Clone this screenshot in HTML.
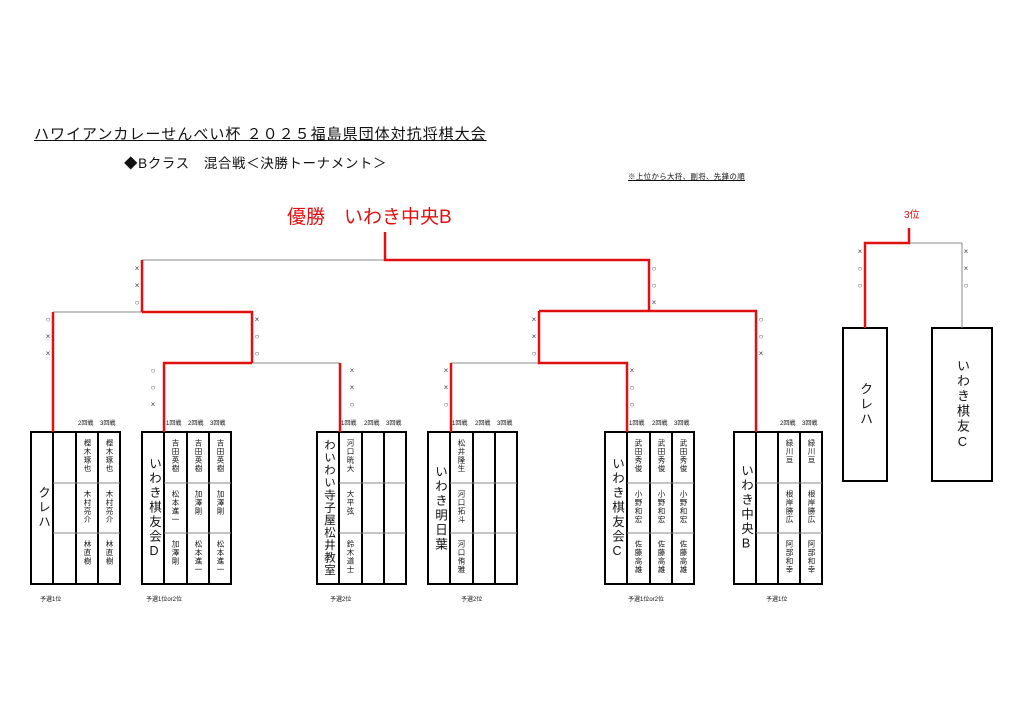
<!DOCTYPE html>
<html><head><meta charset="utf-8"><style>
body{margin:0;width:1024px;height:723px;background:#fff;position:relative;overflow:hidden;font-family:"Liberation Sans","Noto Sans CJK JP",sans-serif;color:#111}
.a{position:absolute;white-space:nowrap}
.v{position:absolute;writing-mode:vertical-rl;text-orientation:upright;font-size:7.5px;width:22px;height:51px;box-sizing:border-box;padding-top:7px;display:flex;align-items:center;line-height:22px;letter-spacing:1px}
.n{position:absolute;writing-mode:vertical-rl;text-orientation:upright;font-size:12.5px;width:22px;height:152px;display:flex;justify-content:center;align-items:center;line-height:22px;letter-spacing:2px}
.h{position:absolute;font-size:6px;top:418px;white-space:nowrap}
.f{position:absolute;font-size:6px;top:594px;white-space:nowrap}
.m{position:absolute;font-size:8px;color:#444;line-height:17px;width:10px;text-align:center}
</style></head><body>
<svg width="1024" height="723" style="position:absolute;left:0;top:0">
<g fill="none" stroke="#000" stroke-width="2">
<rect x="31" y="432" width="89" height="152"/><rect x="142" y="432" width="89" height="152"/><rect x="317" y="432" width="89" height="152"/><rect x="428" y="432" width="89" height="152"/><rect x="605" y="432" width="89" height="152"/><rect x="734" y="432" width="88" height="152"/>
<rect x="843" y="328" width="44" height="153"/><rect x="932" y="328" width="60" height="153"/>
<path d="M53 432V584M76 432V584M98 432V584M164 432V584M187 432V584M209 432V584M339 432V584M362 432V584M384 432V584M450 432V584M473 432V584M495 432V584M627 432V584M650 432V584M672 432V584M756 432V584M778 432V584M800 432V584"/>
</g>
<g stroke="#888" stroke-width="1">
<path d="M53 483H120M53 533H120M164 483H231M164 533H231M339 483H406M339 533H406M450 483H517M450 533H517M627 483H694M627 533H694M756 483H822M756 533H822"/>
<path d="M53 312H142M142 260H385M252 363H340M451 363H539M539 311H649M909 243H962M962 243V328"/>
</g>
<g fill="none" stroke="#e01010" stroke-width="2.5">
<path d="M53 432V312M142 312H252V363M142 312V260M164 432V363H252M340 432V363M451 432V363M627 432V363H539V311M539 311H649V260H385V232M649 311H756V432M909 228V243H865V328"/>
</g>
</svg>
<div class="a" style="left:34px;top:123px;font-size:15px;text-decoration:underline;letter-spacing:1px">ハワイアンカレーせんべい杯 ２０２５福島県団体対抗将棋大会</div>
<div class="a" style="left:124px;top:152px;font-size:13.5px;letter-spacing:0.6px">◆Bクラス　混合戦＜決勝トーナメント＞</div>
<div class="a" style="left:628px;top:171px;font-size:7.5px;text-decoration:underline;letter-spacing:0.3px">※上位から大将、副将、先鋒の順</div>
<div class="a" style="left:287px;top:202px;font-size:19px;color:#e01010">優勝　いわき中央B</div>
<div class="a" style="left:904px;top:206px;font-size:10px;color:#e01010">3位</div>

<!-- marks -->
<div class="m" style="left:43px;top:311px">○<br>×<br>×</div>
<div class="m" style="left:132px;top:260px">×<br>×<br>○</div>
<div class="m" style="left:252px;top:311px">×<br>○<br>○</div>
<div class="m" style="left:148px;top:362px">○<br>○<br>×</div>
<div class="m" style="left:347px;top:362px">×<br>×<br>○</div>
<div class="m" style="left:649px;top:260px">○<br>○<br>×</div>
<div class="m" style="left:529px;top:311px">×<br>×<br>○</div>
<div class="m" style="left:756px;top:311px">○<br>○<br>×</div>
<div class="m" style="left:441px;top:362px">×<br>×<br>○</div>
<div class="m" style="left:627px;top:362px">×<br>○<br>○</div>
<div class="m" style="left:855px;top:243px">×<br>○<br>○</div>
<div class="m" style="left:961px;top:243px">×<br>×<br>○</div>

<!-- T1 -->
<div class="h" style="left:78px">2回戦</div><div class="h" style="left:100px">3回戦</div>
<div class="n" style="left:32px;top:432px">クレハ</div>
<div class="v" style="left:76px;top:432px">樫木琢也</div><div class="v" style="left:76px;top:483px">木村亮介</div><div class="v" style="left:76px;top:533px">林直樹</div>
<div class="v" style="left:98px;top:432px">樫木琢也</div><div class="v" style="left:98px;top:483px">木村亮介</div><div class="v" style="left:98px;top:533px">林直樹</div>
<div class="f" style="left:40px">予選1位</div>
<!-- T2 -->
<div class="h" style="left:166px">1回戦</div><div class="h" style="left:188px">2回戦</div><div class="h" style="left:210px">3回戦</div>
<div class="n" style="left:143px;top:432px">いわき棋友会D</div>
<div class="v" style="left:164px;top:432px">吉田英樹</div><div class="v" style="left:164px;top:483px">松本進一</div><div class="v" style="left:164px;top:533px">加澤剛</div>
<div class="v" style="left:187px;top:432px">吉田英樹</div><div class="v" style="left:187px;top:483px">加澤剛</div><div class="v" style="left:187px;top:533px">松本進一</div>
<div class="v" style="left:209px;top:432px">吉田英樹</div><div class="v" style="left:209px;top:483px">加澤剛</div><div class="v" style="left:209px;top:533px">松本進一</div>
<div class="f" style="left:146px">予選1位or2位</div>
<!-- T3 -->
<div class="h" style="left:341px">1回戦</div><div class="h" style="left:364px">2回戦</div><div class="h" style="left:386px">3回戦</div>
<div class="n" style="left:318px;top:432px;font-size:11.5px;letter-spacing:1px">わいわい寺子屋松井教室</div>
<div class="v" style="left:339px;top:432px">河口晄大</div><div class="v" style="left:339px;top:483px">大平弦</div><div class="v" style="left:339px;top:533px">鈴木道士</div>
<div class="f" style="left:330px">予選2位</div>
<!-- T4 -->
<div class="h" style="left:452px">1回戦</div><div class="h" style="left:475px">2回戦</div><div class="h" style="left:497px">3回戦</div>
<div class="n" style="left:429px;top:432px">いわき明日葉</div>
<div class="v" style="left:450px;top:432px">松井隆生</div><div class="v" style="left:450px;top:483px">河口拓斗</div><div class="v" style="left:450px;top:533px">河口侑雅</div>
<div class="f" style="left:461px">予選2位</div>
<!-- T5 -->
<div class="h" style="left:629px">1回戦</div><div class="h" style="left:652px">2回戦</div><div class="h" style="left:674px">3回戦</div>
<div class="n" style="left:606px;top:432px">いわき棋友会C</div>
<div class="v" style="left:627px;top:432px">武田秀俊</div><div class="v" style="left:627px;top:483px">小野和宏</div><div class="v" style="left:627px;top:533px">佐藤高雄</div>
<div class="v" style="left:650px;top:432px">武田秀俊</div><div class="v" style="left:650px;top:483px">小野和宏</div><div class="v" style="left:650px;top:533px">佐藤高雄</div>
<div class="v" style="left:672px;top:432px">武田秀俊</div><div class="v" style="left:672px;top:483px">小野和宏</div><div class="v" style="left:672px;top:533px">佐藤高雄</div>
<div class="f" style="left:628px">予選1位or2位</div>
<!-- T6 -->
<div class="h" style="left:780px">2回戦</div><div class="h" style="left:802px">3回戦</div>
<div class="n" style="left:735px;top:432px">いわき中央B</div>
<div class="v" style="left:778px;top:432px">緑川亘</div><div class="v" style="left:778px;top:483px">根岸勝広</div><div class="v" style="left:778px;top:533px">阿部和幸</div>
<div class="v" style="left:800px;top:432px">緑川亘</div><div class="v" style="left:800px;top:483px">根岸勝広</div><div class="v" style="left:800px;top:533px">阿部和幸</div>
<div class="f" style="left:766px">予選1位</div>
<!-- 3rd place -->
<div class="n" style="left:854px;top:328px;height:153px;font-size:13px">クレハ</div>
<div class="n" style="left:951px;top:328px;height:153px;font-size:13px">いわき棋友C</div>
</body></html>
